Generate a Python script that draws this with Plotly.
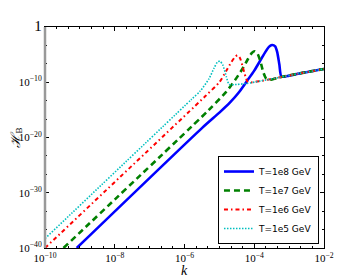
import numpy as np
import plotly.graph_objs as go

# log10(k) and log10(H_B)
k_1e8 = [-9.09, -5.5, -5.0, -4.7, -4.45, -4.2, -4.0, -3.82, -3.68, -3.58, -3.49, -3.40, -3.34, -3.28, -3.22, -3.0, -2.7, -2.0]
h_1e8 = [-40, -18.3, -15.5, -13.7, -11.9, -9.7, -7.9, -6.0, -4.5, -3.6, -3.26, -3.5, -4.6, -6.8, -9.0, -8.8, -8.4, -7.6]

k_1e7 = [-9.47, -5.3, -4.8, -4.55, -4.35, -4.18, -4.07, -3.98, -3.9, -3.82, -3.74, -3.66, -3.55, -3.3, -2.7, -2.0]
h_1e7 = [-40, -15.0, -11.7, -9.6, -7.7, -5.8, -4.7, -4.4, -4.9, -6.3, -8.2, -9.3, -9.55, -9.15, -8.4, -7.6]

k_1e6 = [-10, -5.4, -5.0, -4.8, -4.65, -4.55, -4.48, -4.41, -4.33, -4.25, -4.18, -3.8, -3.3, -2.7, -2.0]
h_1e6 = [-40, -12.5, -10.0, -7.9, -6.3, -5.4, -5.1, -5.6, -7.2, -9.0, -10.0, -9.75, -9.15, -8.4, -7.6]

k_1e5 = [-10, -5.8, -5.55, -5.3, -5.15, -5.05, -4.98, -4.9, -4.8, -4.72, -4.5, -4.2, -3.8, -3.3, -2.7, -2.0]
h_1e5 = [-38.3, -13.1, -11.6, -9.4, -7.4, -6.3, -6.2, -6.9, -9.0, -10.4, -10.4, -10.2, -9.75, -9.15, -8.4, -7.6]

series = [
    ('T=1e8 GeV', k_1e8, h_1e8, '#0000ff', 'solid', 2.6),
    ('T=1e7 GeV', k_1e7, h_1e7, '#008000', '6px,4px', 2.6),
    ('T=1e6 GeV', k_1e6, h_1e6, '#ff0000', '4px,3px,1.5px,3px', 2),
    ('T=1e5 GeV', k_1e5, h_1e5, '#00bfbf', '1.5px,1.5px', 1.6),
]

xticks = [-10, -8, -6, -4, -2]
yticks = [0, -10, -20, -30, -40]

def label(e):
    if e == 0:
        return '<span style="font-size:15px">1</span>'
    return '10<sup>\u2212%d</sup>' % -e

data = [go.Scatter(
    x=10 ** np.array(k, dtype=float),
    y=10 ** np.array(h, dtype=float),
    mode='lines',
    name=name,
    line=dict(color=col, dash=dash, width=w, shape='spline', smoothing=0.6))
    for name, k, h, col, dash, w in series]

axis_common = dict(type='log', showline=True, linecolor='black', linewidth=1,
                   mirror='allticks', ticks='inside', ticklen=4, tickcolor='black',
                   showgrid=False, zeroline=False, automargin=False,
                   tickfont=dict(family='Liberation Serif', size=11, color='black'))

title_font = dict(family='Liberation Serif', size=14, color='black')

# page body adds an 8px margin, so the figure is a bit smaller than the window
layout = go.Layout(
    width=352, height=269,
    margin=dict(l=37, r=36, t=19, b=29),
    paper_bgcolor='white', plot_bgcolor='white',
    showlegend=True,
    xaxis=dict(axis_common, range=[-10, -2],
               tickvals=[10.0 ** e for e in xticks],
               ticktext=[label(e) for e in xticks],
               minor=dict(ticks='inside', ticklen=2, tickcolor='black',
                          tickvals=list(10 ** np.arange(-10, -2, 1 / 3)))),
    yaxis=dict(axis_common, range=[-40, 0],
               tickvals=[10.0 ** e for e in yticks],
               ticktext=[label(e) for e in yticks],
               minor=dict(ticks='inside', ticklen=2, tickcolor='black',
                          tickvals=list(10 ** np.arange(-40, 0, 10 / 3)))),
    annotations=[
        dict(text='<i>k</i>', xref='paper', yref='paper', x=0.5, y=0,
             xanchor='center', yanchor='middle', yshift=-22, showarrow=False,
             font=title_font),
        dict(text='<i>\u210b</i><sub>B</sub>', xref='paper', yref='paper', x=0, y=0.5,
             xanchor='center', yanchor='middle', xshift=-29, textangle=-90,
             showarrow=False, font=dict(title_font, size=13)),
    ],
    legend=dict(x=0.982, y=0.018, xanchor='right', yanchor='bottom',
                bgcolor='white', bordercolor='black', borderwidth=1,
                font=dict(family='DejaVu Sans', size=9, color='black'),
                tracegroupgap=0, itemwidth=30),
    shapes=[dict(type='line', xref='paper', yref='paper', x0=0, x1=0, y0=0, y1=1,
                 line=dict(color='#999999', width=2.5))],
)

fig = go.Figure(data=data, layout=layout)
fig.write_html('out.html')
